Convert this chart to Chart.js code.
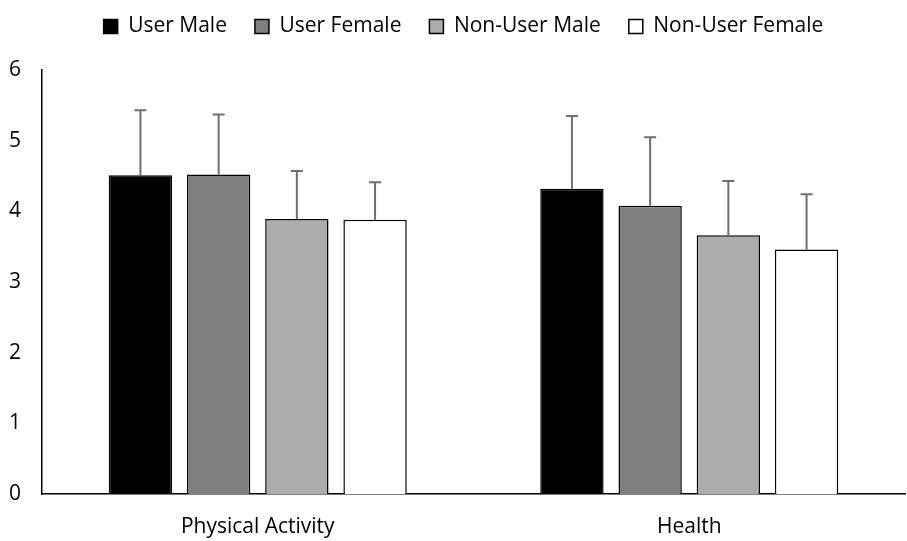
<!DOCTYPE html>
<html><head><meta charset="utf-8">
<script src="https://cdn.jsdelivr.net/npm/chart.js@4"></script>
<style>html,body{margin:0;padding:0;background:#fff}#w{width:907px;height:541px;position:relative}</style>
</head><body><div id="w"><canvas id="c"></canvas></div>
<script>
const categories = ["Physical Activity", "Health"];
const seriesNames = ["User Male", "User Female", "Non-User Male", "Non-User Female"];
const userMale = [4.51, 4.32];
const userFemale = [4.52, 4.08];
const nonUserMale = [3.89, 3.66];
const nonUserFemale = [3.88, 3.46];
const errUserMale = [0.92, 1.03];
const errUserFemale = [0.85, 0.97];
const errNonUserMale = [0.68, 0.77];
const errNonUserFemale = [0.53, 0.78];
const yTicks = [0, 1, 2, 3, 4, 5, 6];

const FONT = "'Open Sans'";
const FS = 21;
const LEG_PAD = 28;
const values = [userMale, userFemale, nonUserMale, nonUserFemale];
const errors = [errUserMale, errUserFemale, errNonUserMale, errNonUserFemale];
const fills = ["#000000", "#7f7f7f", "#afabab", "#ffffff"];

const errorBars = {
  id: "errorBars",
  afterDatasetsDraw(chart) {
    const ctx = chart.ctx, y = chart.scales.y;
    ctx.save();
    ctx.strokeStyle = "#6e6e6e";
    ctx.lineWidth = 2;
    chart.data.datasets.forEach((ds, i) => {
      const meta = chart.getDatasetMeta(i);
      meta.data.forEach((bar, j) => {
        const top = y.getPixelForValue(ds.data[j] + ds.errors[j]);
        ctx.beginPath();
        ctx.moveTo(bar.x, bar.y);
        ctx.lineTo(bar.x, top);
        ctx.moveTo(bar.x - 6, top);
        ctx.lineTo(bar.x + 6, top);
        ctx.stroke();
      });
    });
    ctx.restore();
  }
};

const legendAdjust = {
  id: "legendAdjust",
  afterInit(chart) {
    const lg = chart.legend;
    const f = lg.fit;
    lg.fit = function () { f.call(this); this.height = 70; };
  },
  beforeDraw(chart) {
    const lg = chart.legend;
    if (lg && !lg._shifted) {
      lg.left += 11; lg.right += 11; lg.top -= 12; lg.bottom -= 12;
      lg._shifted = true;
    }
  },
  afterUpdate(chart) { if (chart.legend) chart.legend._shifted = false; }
};

new Chart(document.getElementById("c"), {
  type: "bar",
  data: {
    labels: categories,
    datasets: seriesNames.map((n, i) => ({
      label: n,
      data: values[i],
      errors: errors[i],
      backgroundColor: fills[i],
      borderColor: "#000000",
      borderWidth: 1.5,
      categoryPercentage: 0.725,
      barPercentage: 0.81
    }))
  },
  options: {
    responsive: true,
    maintainAspectRatio: false,
    animation: false,
    layout: { padding: { left: 0, right: 2, top: 0, bottom: 0 } },
    plugins: {
      legend: {
        position: "top",
        labels: {
          font: { family: FONT, size: FS },
          color: "#000",
          boxWidth: 14,
          boxHeight: 14,
          padding: LEG_PAD
        }
      },
      tooltip: { enabled: false }
    },
    scales: {
      x: {
        afterFit(s) { s.height = 47; },
        grid: { display: false, drawTicks: false },
        border: { display: true, color: "#000", width: 1.5 },
        ticks: { font: { family: FONT, size: FS }, color: "#000", padding: 20 }
      },
      y: {
        min: 0, max: 6,
        afterFit(s) { s.width = 42; },
        afterBuildTicks(s) { s.ticks = yTicks.map(v => ({ value: v })); },
        grid: { display: false, drawTicks: false },
        border: { display: true, color: "#000", width: 1.5 },
        ticks: { font: { family: FONT, size: FS }, color: "#000", padding: 21, stepSize: 1 }
      }
    }
  },
  plugins: [errorBars, legendAdjust]
});
</script></body></html>
